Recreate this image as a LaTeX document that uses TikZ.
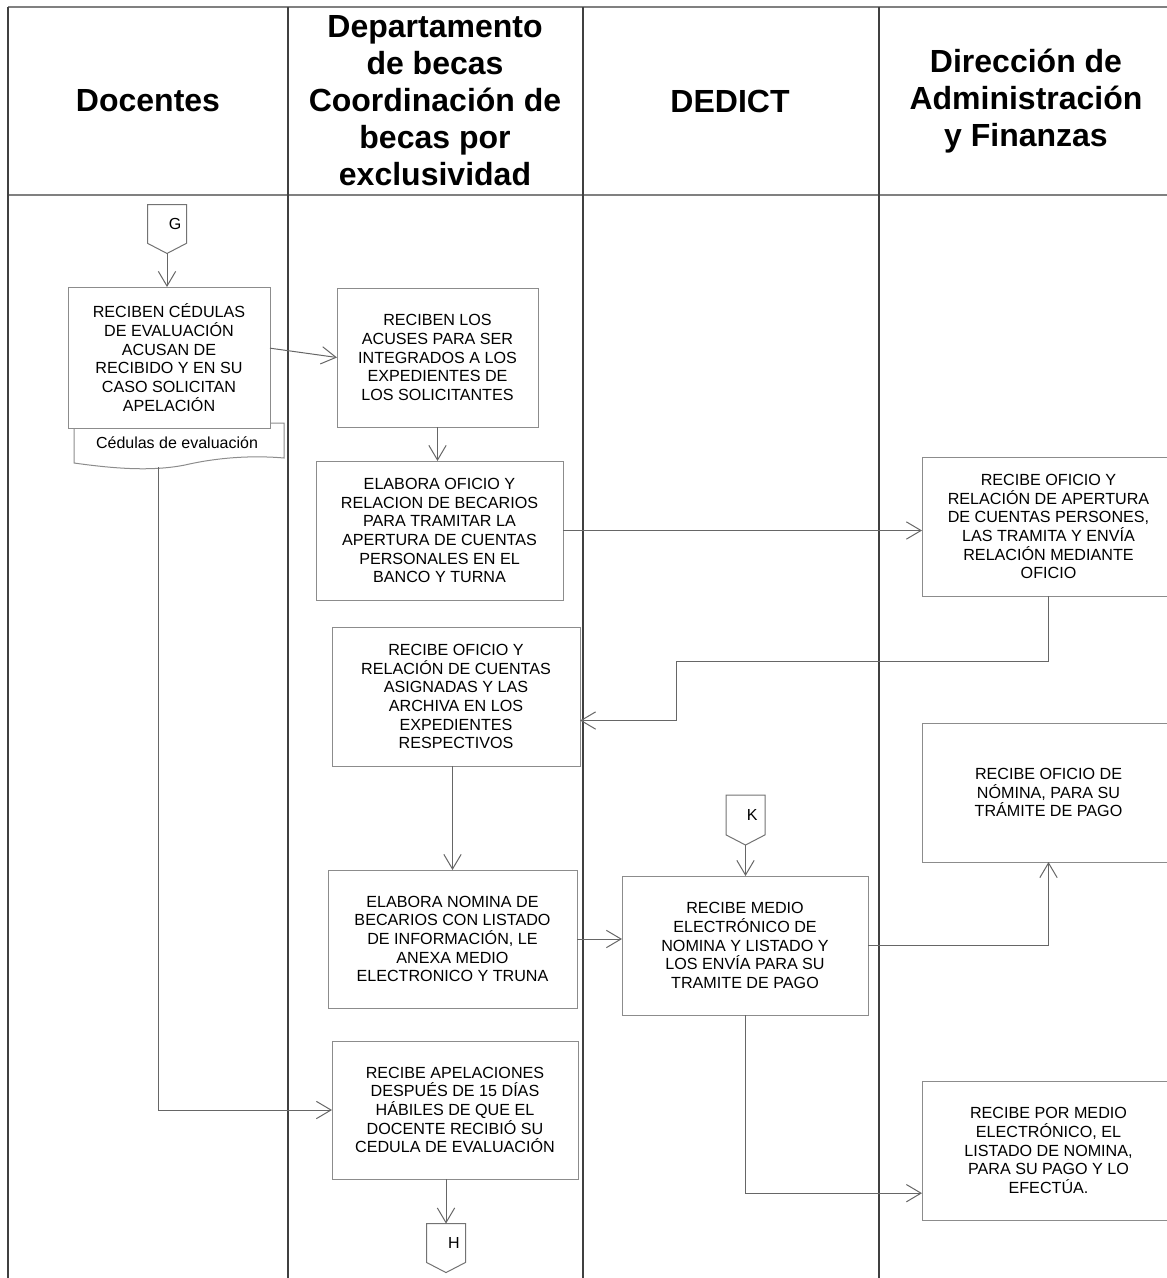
\documentclass[tikz,border=0pt]{standalone}
\usepackage{fontspec}
\setmainfont{Liberation Sans}
\usetikzlibrary{arrows.meta,shapes.symbols}
\tikzset{
  every picture/.style={line width=0.75pt},
  carril/.style={draw=black!75, line width=1.3pt},
  borde/.style={draw=black!50, line width=1.4pt},
  encab/.style={font=\fontsize{24}{27.75}\selectfont\bfseries, align=center},
  proceso/.style={draw=black!45, fill=white, align=center, inner sep=0pt, outer sep=0pt,
    font=\fontsize{12.1}{14}\selectfont},
  conector/.style={signal, signal to=south, draw=black!55, fill=white, signal pointer angle=125,
    minimum width=29.25pt, minimum height=34.5pt, inner sep=0pt, outer sep=0pt,
    font=\fontsize{12}{14}\selectfont},
  flujo/.style={draw=black!60, -{Straight Barb[length=11pt,width=13pt]}},
}

\begin{document}
\begin{tikzpicture}[x=0.75pt, y=-0.75pt]
    \useasboundingbox (0,0) rectangle (1167,1278);
    \clip (0,0) rectangle (1167,1278);

    % carriles
    \draw[borde] (8,7) -- (1167,7);
    \draw[borde] (8,195) -- (1167,195);
    \foreach \x in {8,288,583,879}
        \draw[carril] (\x,7) -- (\x,1278);

    % encabezados
    \node[encab] (hdoc) at (148,101) {Docentes};
    \node[encab] (hdep) at (435,101) {Departamento\\de becas\\Coordinación de\\becas por\\exclusividad};
    \node[encab] (hded) at (730,101) {DEDICT};
    \node[encab] (hdaf) at (1026,101) {Dirección de\\Administración\\y Finanzas};

    % documento de cédulas (debajo de la primera actividad)
    \draw[draw=black!45, fill=white] (74,423) -- (284,423) -- (284,458)
        .. controls (250,455) and (215,458) .. (185,465)
        .. controls (150,472) and (110,468) .. (74,463) -- cycle;
    \node[font=\fontsize{12}{14}\selectfont] (doc) at (177,443) {Cédulas de evaluación};
    \coordinate (docout) at (158,467);

    % Docentes
    \node[conector] (G) at (167,224) {\hspace*{12pt}G};
    \node[proceso, minimum width=151.5pt, minimum height=105.75pt] (rec) at (169,357.5)
        {RECIBEN CÉDULAS\\DE EVALUACIÓN\\ACUSAN DE\\RECIBIDO Y EN SU\\CASO SOLICITAN\\APELACIÓN};

    % Departamento de becas
    \node[proceso, minimum width=150.75pt, minimum height=104.25pt] (acu) at (437.5,357.5)
        {RECIBEN LOS\\ACUSES PARA SER\\INTEGRADOS A LOS\\EXPEDIENTES DE\\LOS SOLICITANTES};
    \node[proceso, minimum width=185.25pt, minimum height=104.25pt] (ofi) at (439.5,530.5)
        {ELABORA OFICIO Y\\RELACION DE BECARIOS\\PARA TRAMITAR LA\\APERTURA DE CUENTAS\\PERSONALES EN EL\\BANCO Y TURNA};
    \node[proceso, minimum width=186pt, minimum height=104.25pt] (arc) at (456,696.5)
        {RECIBE OFICIO Y\\RELACIÓN DE CUENTAS\\ASIGNADAS Y LAS\\ARCHIVA EN LOS\\EXPEDIENTES\\RESPECTIVOS};
    \node[proceso, minimum width=186.75pt, minimum height=103.5pt] (nom) at (452.5,939)
        {ELABORA NOMINA DE\\BECARIOS CON LISTADO\\DE INFORMACIÓN, LE\\ANEXA MEDIO\\ELECTRONICO Y TRUNA};
    \node[proceso, minimum width=184.5pt, minimum height=103.5pt] (ape) at (455,1110)
        {RECIBE APELACIONES\\DESPUÉS DE 15 DÍAS\\HÁBILES DE QUE EL\\DOCENTE RECIBIÓ SU\\CEDULA DE EVALUACIÓN};
    \node[conector] (H) at (446,1243) {\hspace*{12pt}H};

    % DEDICT
    \node[conector] (K) at (745.5,815) {\hspace*{10pt}K};
    \node[proceso, minimum width=184.5pt, minimum height=104.25pt] (med) at (745,945.5)
        {RECIBE MEDIO\\ELECTRÓNICO DE\\NOMINA Y LISTADO Y\\LOS ENVÍA PARA SU\\TRAMITE DE PAGO};

    % Dirección de Administración y Finanzas
    \node[proceso, minimum width=189.75pt, minimum height=104.25pt] (cta) at (1048.5,526.5)
        {RECIBE OFICIO Y\\RELACIÓN DE APERTURA\\DE CUENTAS PERSONES,\\LAS TRAMITA Y ENVÍA\\RELACIÓN MEDIANTE\\OFICIO};
    \node[proceso, minimum width=189.75pt, minimum height=104.25pt] (tra) at (1048.5,792.5)
        {RECIBE OFICIO DE\\NÓMINA, PARA SU\\TRÁMITE DE PAGO};
    \node[proceso, minimum width=189.75pt, minimum height=104.25pt] (pag) at (1048.5,1150.5)
        {RECIBE POR MEDIO\\ELECTRÓNICO, EL\\LISTADO DE NOMINA,\\PARA SU PAGO Y LO\\EFECTÚA.};

    % flujos
    \coordinate (quiebre) at (676,661);
    \draw[flujo] (G.south) -- (G.south |- rec.north);
    \draw[flujo] ([yshift=7pt]rec.east) -- (acu.west);
    \draw[flujo] (acu.south) -- (acu.south |- ofi.north);
    \draw[flujo] (ofi.east) -- (ofi.east -| cta.west);
    \draw[flujo] (cta.south) |- (quiebre) |- ([yshift=-18pt]arc.east);
    \draw[flujo] (nom.north |- arc.south) -- (nom.north);
    \draw[flujo] (nom.east) -- (nom.east -| med.west);
    \draw[flujo] (K.south) -- (K.south |- med.north);
    \draw[flujo] (med.east) -| (tra.south);
    \draw[flujo] (med.south) |- ([yshift=-32pt]pag.west);
    \draw[flujo] (docout) |- (ape.west);
    \draw[flujo] (H.north |- ape.south) -- (H.north);
\end{tikzpicture}
\end{document}
